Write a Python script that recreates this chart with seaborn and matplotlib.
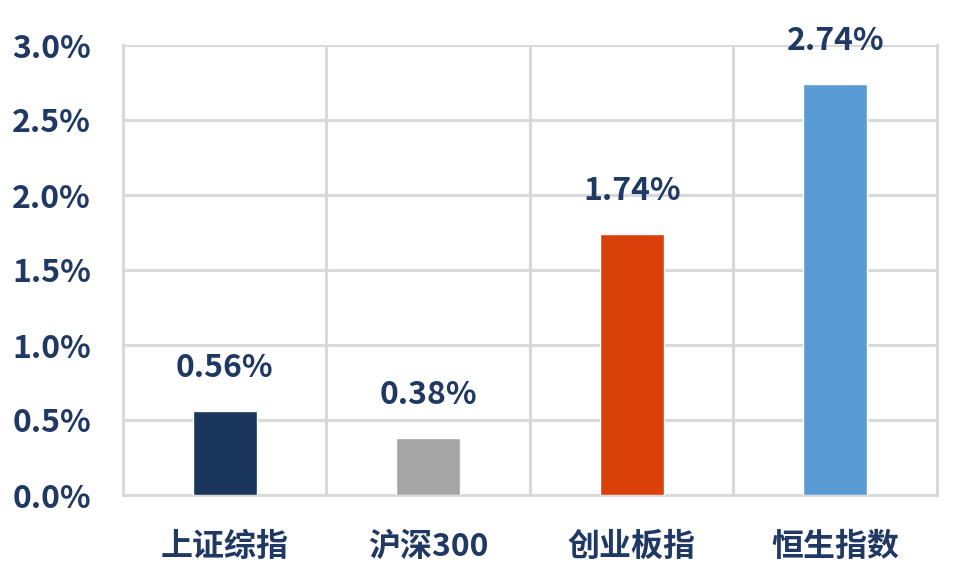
import matplotlib
matplotlib.use("Agg")
import matplotlib.pyplot as plt
import seaborn as sns
import pandas as pd
from matplotlib.ticker import FuncFormatter, MultipleLocator, FixedLocator

categories = ["上证综指", "沪深300", "创业板指", "恒生指数"]
values = [0.56, 0.38, 1.74, 2.74]
colors = ["#1b365d", "#a5a5a5", "#d9400a", "#5b9bd5"]
value_labels = ["0.56%", "0.38%", "1.74%", "2.74%"]

sns.set_theme(style="white")
plt.rcParams['font.family'] = ['Noto Sans CJK SC', 'DejaVu Sans']
text_color = "#1f3864"
grid_color = "#d9d9d9"
fs = 23
weight = "heavy"

df = pd.DataFrame({"cat": categories, "val": values})

fig = plt.figure(figsize=(9.54, 5.71), dpi=100)
ax = fig.add_axes([123/954, 1-495/571, (937-123)/954, (495-45)/571])

sns.barplot(data=df, x="cat", y="val", hue="cat", palette=colors, width=0.315,
            legend=False, ax=ax, saturation=1, zorder=3)

ax.set_ylim(0, 3.0)
ax.set_xlim(-0.5, 3.5)
ax.yaxis.set_major_locator(MultipleLocator(0.5))
ax.yaxis.set_major_formatter(FuncFormatter(lambda v, p: f"{v:.1f}%"))
ax.xaxis.set_minor_locator(FixedLocator([0.5, 1.5, 2.5]))
ax.grid(axis="y", which="major", color=grid_color, linewidth=2.2, zorder=0)
ax.grid(axis="x", which="minor", color=grid_color, linewidth=2.2, zorder=0)
ax.grid(axis="x", which="major", visible=False)
for s in ax.spines.values():
    s.set_visible(True)
    s.set_color(grid_color)
    s.set_linewidth(2.2)
ax.spines["top"].set_visible(False)
ax.set_xlabel("")
ax.set_ylabel("")
ax.tick_params(axis="y", length=0, pad=23, labelsize=fs, labelcolor=text_color)
ax.tick_params(axis="x", which="both", length=0, pad=26, labelsize=fs, labelcolor=text_color)
for lab in ax.get_yticklabels() + ax.get_xticklabels():
    lab.set_fontweight(weight)

for i, (v, t) in enumerate(zip(values, value_labels)):
    ax.annotate(t, (i, v), xytext=(0, 31), textcoords="offset points",
                ha="center", va="center", fontsize=fs, fontweight=weight,
                color=text_color, annotation_clip=False)

fig.savefig("out.png", dpi=100)
